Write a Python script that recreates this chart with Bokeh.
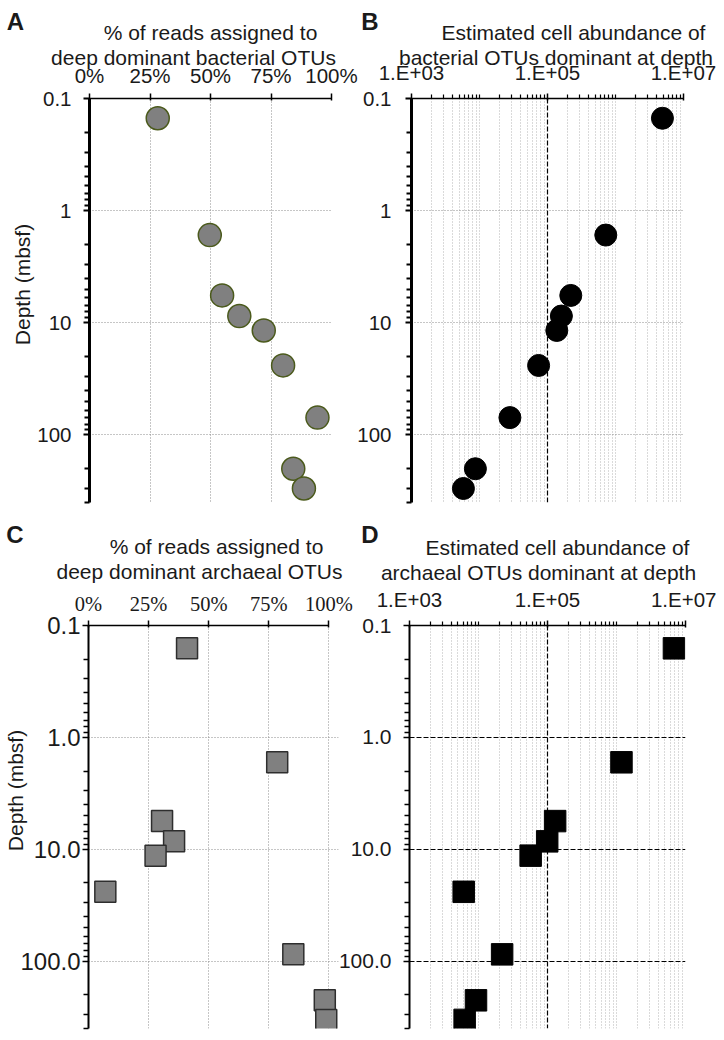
import math
from bokeh.plotting import figure
from bokeh.layouts import column, row
from bokeh.models import Range1d, FixedTicker, CustomJSTickFormatter
from bokeh.core.properties import value
from bokeh.embed import file_html
from bokeh.resources import INLINE

# ---------------- data ----------------
depth_bac = [0.15, 1.65, 5.7, 8.7, 11.7, 24, 70, 200, 300]
pct_bac = [28.2, 49.7, 54.8, 61.9, 72.0, 80.0, 94.2, 84.2, 88.6]
cells_bac = [4.9e6, 7.2e5, 2.2e5, 1.6e5, 1.37e5, 7.4e4, 2.8e4, 8.7e3, 5.8e3]

depth_arc = [0.16, 1.67, 5.6, 8.5, 11.4, 24, 87, 224, 335]
pct_arc = [41.0, 78.5, 30.6, 35.6, 27.9, 7.0, 85.2, 98.3, 98.9]
cells_arc = [6.8e6, 1.18e6, 1.29e5, 9.9e4, 5.7e4, 6.1e3, 2.2e4, 9.2e3, 6.3e3]

depth_ticks = [0.1, 1, 10, 100]
depth_labels_top = ["0.1", "1", "10", "100"]
depth_labels_bottom = ["0.1", "1.0", "10.0", "100.0"]
depth_grid = [1, 10, 100]
pct_ticks = [0, 25, 50, 75, 100]
pct_labels = ["0%", "25%", "50%", "75%", "100%"]
pct_grid = [25, 50, 75, 100]
cell_ticks = [1e3, 1e5, 1e7]
cell_labels = ["1.E+03", "1.E+05", "1.E+07"]
cell_grid = [1e5, 1e7]

depth_min, depth_max = 0.1, 400
pct_min, pct_max = 0, 100
cell_min, cell_max = 1e3, 1e7

depth_minor = [round(m * 10.0 ** e, 6) for e in range(-1, 3) for m in range(2, 10)
               if m * 10.0 ** e <= depth_max]
cell_minor = [m * 10.0 ** e for e in range(3, 7) for m in range(1, 10)
              if m * 10.0 ** e not in cell_ticks]

# free texts (titles, panel letters, depth labels)
title_text = ["% of reads assigned to", "deep dominant bacterial OTUs",
              "Estimated cell abundance of", "bacterial OTUs dominant at depth",
              "% of reads assigned to", "deep dominant archaeal OTUs",
              "Estimated cell abundance of", "archaeal OTUs dominant at depth"]
title_x = [210, 193, 573, 555.5, 216, 199, 557, 538]
title_y = [32.3, 57.3, 31.7, 56.7, 545.7, 570.7, 546.7, 571.7]
letter_text = ["A", "B", "C", "D"]
letter_x = [15, 369.5, 14.5, 369.5]
letter_y = [20.5, 20.5, 533.5, 533.5]
ylab_text = ["Depth (mbsf)", "Depth (mbsf)"]
ylab_x = [21.5, 14.5]
ylab_y = [284, 790]

FONT = "Liberation Sans"
SERIF = "Liberation Serif"
INK = "#1a1a1a"
PAGE_W, PAGE_H = 716, 1036


def fmt(tick_values, tick_texts):
    return CustomJSTickFormatter(args=dict(tvals=tick_values, ttexts=tick_texts), code="""
        for (let i = 0; i < tvals.length; i++) {
            if (Math.abs(tvals[i] - tick) <= 1e-9 * Math.abs(tvals[i]) + 1e-12) return ttexts[i];
        }
        return "";
    """)


def base_fig(width, height, bl, bt, fw, fh, x_log, x_start, x_end, margin=None):
    kw = {}
    if margin is not None:
        kw["margin"] = margin
    p = figure(width=width, height=height,
               x_axis_type="log" if x_log else "linear", y_axis_type="log",
               x_axis_location="above",
               x_range=Range1d(x_start, x_end), y_range=Range1d(depth_max, depth_min),
               min_border_left=bl, min_border_top=bt,
               min_border_right=width - bl - fw, min_border_bottom=height - bt - fh,
               output_backend="svg", toolbar_location=None, **kw)
    p.outline_line_color = None
    p.border_fill_color = None
    p.background_fill_color = None
    return p


def style_x(p, ticks, labels, minor, font, standoff, bounds):
    ax = p.xaxis[0]
    ax.ticker = FixedTicker(ticks=ticks, minor_ticks=minor)
    ax.formatter = fmt(ticks, labels)
    ax.bounds = bounds
    ax.axis_line_color = "black"
    ax.axis_line_width = 1.5
    ax.major_tick_line_color = "black"
    ax.major_tick_line_width = 1.5
    ax.major_tick_out = 5
    ax.major_tick_in = 2
    ax.minor_tick_line_color = "black"
    ax.minor_tick_line_width = 1.2
    ax.minor_tick_out = 4
    ax.minor_tick_in = 0
    ax.major_label_text_font = font
    ax.major_label_text_font_size = "20.5px"
    ax.major_label_text_color = INK
    ax.major_label_standoff = standoff


def style_y(p, labels, line_w, size, standoff):
    ax = p.yaxis[0]
    ax.ticker = FixedTicker(ticks=depth_ticks, minor_ticks=depth_minor)
    ax.formatter = fmt(depth_ticks, labels)
    ax.bounds = (depth_min, depth_max)
    ax.axis_line_color = "black"
    ax.axis_line_width = line_w
    ax.major_tick_line_color = "black"
    ax.major_tick_line_width = line_w * 0.7
    ax.major_tick_out = 6
    ax.major_tick_in = 0
    ax.minor_tick_line_color = "black"
    ax.minor_tick_line_width = line_w * 0.7
    ax.minor_tick_out = 5
    ax.minor_tick_in = 0
    ax.major_label_text_font = FONT
    ax.major_label_text_font_size = size
    ax.major_label_text_color = INK
    ax.major_label_standoff = standoff


def pct_grid_style(p):
    p.xgrid.ticker = FixedTicker(ticks=pct_grid)
    p.xgrid.grid_line_color = "#8c8c8c"
    p.xgrid.grid_line_dash = "1 2"
    p.xgrid.grid_line_width = 1
    p.ygrid.ticker = FixedTicker(ticks=depth_grid)
    p.ygrid.grid_line_color = "#8c8c8c"
    p.ygrid.grid_line_dash = "1 2"
    p.ygrid.grid_line_width = 1


def cell_grid_style(p, ygrid_dashed):
    p.xgrid.ticker = FixedTicker(ticks=cell_grid, minor_ticks=cell_minor)
    p.xgrid.grid_line_color = "black"
    p.xgrid.grid_line_dash = "5 2"
    p.xgrid.grid_line_width = 1.2
    p.xgrid.minor_grid_line_color = "#b4b4b4"
    p.xgrid.minor_grid_line_dash = "1 2"
    p.xgrid.minor_grid_line_width = 1
    p.ygrid.ticker = FixedTicker(ticks=depth_grid)
    if ygrid_dashed:
        p.ygrid.grid_line_color = "black"
        p.ygrid.grid_line_dash = "5 2"
        p.ygrid.grid_line_width = 1.2
    else:
        p.ygrid.grid_line_color = "#8c8c8c"
        p.ygrid.grid_line_dash = "1 2"
        p.ygrid.grid_line_width = 1


# ---------------- background text layer (page pixel coordinates) ----------------
bg = figure(width=PAGE_W, height=PAGE_H, x_range=Range1d(0, PAGE_W), y_range=Range1d(PAGE_H, 0),
            x_axis_type=None, y_axis_type=None, min_border=0,
            output_backend="svg", toolbar_location=None)
bg.outline_line_color = None
bg.border_fill_color = None
bg.background_fill_color = None
bg.xgrid.visible = False
bg.ygrid.visible = False
bg.text(x=title_x, y=title_y, text=title_text, text_font=value(FONT),
        text_font_size="21px", text_color=INK, text_align="center",
        text_baseline="alphabetic")
bg.text(x=letter_x, y=letter_y, text=letter_text, text_font=value(FONT),
        text_font_size="24px", text_font_style="bold", text_color=INK,
        text_align="center", text_baseline="alphabetic")
bg.text(x=ylab_x, y=ylab_y, text=ylab_text, text_font=value(FONT),
        text_font_size="21px", text_color=INK, text_align="center",
        text_baseline="middle", angle=math.pi / 2)

# ---------------- Panel A ----------------
pA = base_fig(360, 512, 89, 98, 242, 408, False, pct_min, pct_max)
style_x(pA, pct_ticks, pct_labels, [], FONT, 7, (pct_min, pct_max))
style_y(pA, depth_labels_top, 3, "20.5px", 12)
pct_grid_style(pA)
pA.scatter(pct_bac, depth_bac, marker="circle", size=23, fill_color="#808080",
           line_color="#4b5a1c", line_width=1.5)

# ---------------- Panel B ----------------
pB = base_fig(376, 512, 71, 98, 272, 404, True, cell_min, cell_max, margin=(0, 0, 0, -20))
style_x(pB, cell_ticks, cell_labels, cell_minor, FONT, 10, (cell_min, cell_max))
style_y(pB, depth_labels_top, 3, "20.5px", 14)
cell_grid_style(pB, False)
pB.scatter(cells_bac, depth_bac, marker="circle", size=22, fill_color="black",
           line_color="black", line_width=1)

# ---------------- Panel C ----------------
pC = base_fig(360, 524, 88, 113, 250, 403, False, pct_min, 104)
style_x(pC, pct_ticks, pct_labels, [], SERIF, 6, (pct_min, pct_max))
style_y(pC, depth_labels_bottom, 2, "24px", 2)
pct_grid_style(pC)
pC.scatter(pct_arc, depth_arc, marker="square", size=21, fill_color="#808080",
           line_color="#2e2e2e", line_width=1.5)

# ---------------- Panel D ----------------
pD = base_fig(386, 524, 79, 113, 276, 403, True, cell_min, cell_max, margin=(0, 0, 0, -30))
style_x(pD, cell_ticks, cell_labels, cell_minor, FONT, 10, (cell_min, cell_max))
style_y(pD, depth_labels_bottom, 2, "21px", 12)
cell_grid_style(pD, True)
pD.scatter(cells_arc, depth_arc, marker="square", size=21.5, fill_color="black",
           line_color="black", line_width=1)

layout = column(bg,
                row(pA, pB, margin=(-PAGE_H, 0, 0, 0)),
                row(pC, pD))
open("out.html", "w").write(file_html(layout, INLINE))
